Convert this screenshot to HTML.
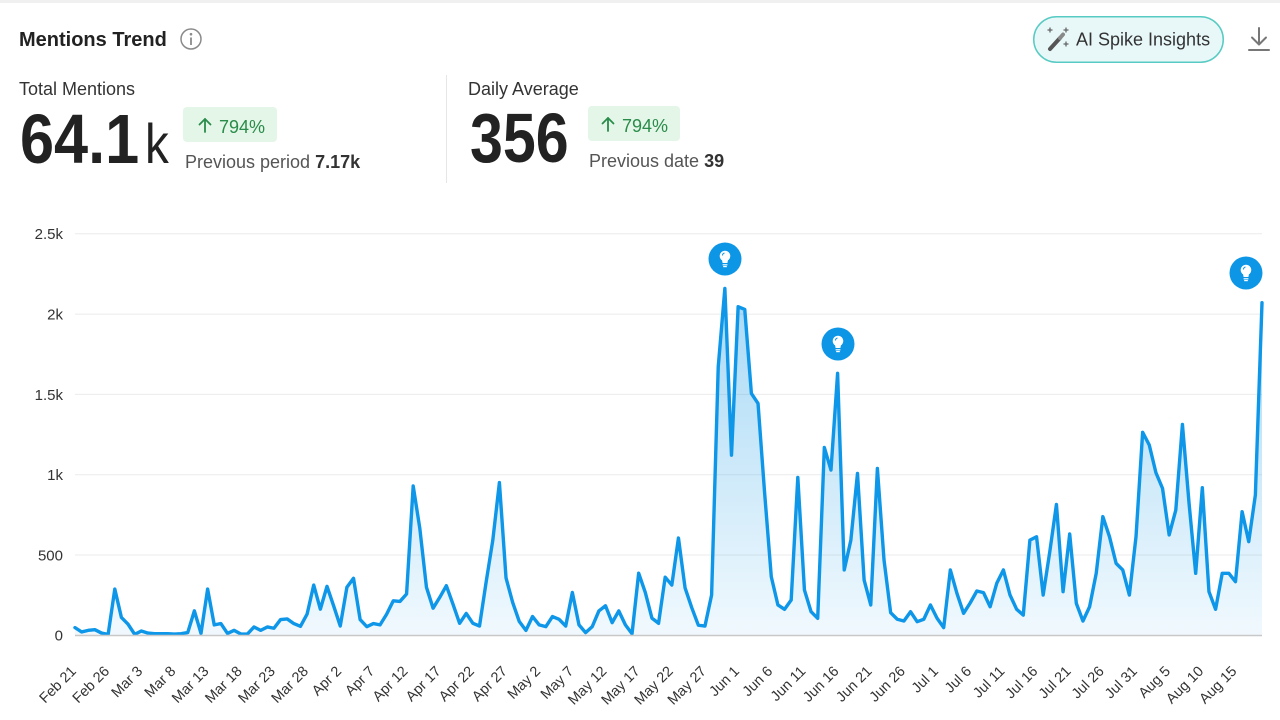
<!DOCTYPE html>
<html>
<head>
<meta charset="utf-8">
<style>
  html,body{margin:0;padding:0;background:#fff;}
  body{width:1280px;height:720px;overflow:hidden;}
  svg{display:block;}
</style>
</head>
<body>
<svg width="1280" height="720" viewBox="0 0 1280 720" xmlns="http://www.w3.org/2000/svg" font-family="'Liberation Sans', Arial, sans-serif">
  <defs>
    <linearGradient id="areaGrad" x1="0" y1="0" x2="0" y2="1">
      <stop offset="0" stop-color="#0c95e6" stop-opacity="0.06"/>
      <stop offset="1" stop-color="#0c95e6" stop-opacity="0.36"/>
    </linearGradient>
  </defs>
  <rect x="0" y="0" width="1280" height="720" fill="#ffffff"/>
  <rect x="0" y="0" width="1280" height="3" fill="#f0f0f0"/>

  <!-- Title -->
  <text x="19" y="46" font-size="20" font-weight="bold" fill="#222">Mentions Trend</text>
  <circle cx="191" cy="39" r="10" fill="none" stroke="#8a8a8a" stroke-width="1.5"/>
  <circle cx="191" cy="34.2" r="1.3" fill="#8a8a8a"/>
  <line x1="191" y1="37.5" x2="191" y2="45" stroke="#8a8a8a" stroke-width="1.8"/>

  <!-- AI Spike Insights button -->
  <rect x="1033.75" y="16.75" width="189.5" height="45.5" rx="22.75" fill="#e8f8f8" stroke="#57cbc3" stroke-width="1.5"/>
  <g stroke-linecap="round">
    <line x1="1050" y1="49" x2="1060" y2="38" stroke="#555" stroke-width="4"/>
    <line x1="1060" y1="38" x2="1063" y2="34.5" stroke="#888" stroke-width="4"/>
    <line x1="1050" y1="28" x2="1050" y2="32" stroke="#666" stroke-width="1.3"/>
    <line x1="1048" y1="30" x2="1052" y2="30" stroke="#666" stroke-width="1.3"/>
    <line x1="1066" y1="28" x2="1066" y2="32" stroke="#666" stroke-width="1.3"/>
    <line x1="1064" y1="30" x2="1068" y2="30" stroke="#666" stroke-width="1.3"/>
    <line x1="1066" y1="42" x2="1066" y2="46" stroke="#666" stroke-width="1.3"/>
    <line x1="1064" y1="44" x2="1068" y2="44" stroke="#666" stroke-width="1.3"/>
  </g>
  <text x="1076" y="45.5" font-size="18" fill="#333">AI Spike Insights</text>

  <!-- Download icon -->
  <g stroke="#777" stroke-width="2" fill="none" stroke-linecap="round" stroke-linejoin="round">
    <line x1="1259" y1="28" x2="1259" y2="44"/>
    <polyline points="1252,37.5 1259,44.5 1266,37.5"/>
    <line x1="1249" y1="50" x2="1269" y2="50"/>
  </g>

  <!-- Total Mentions -->
  <text x="19" y="95" font-size="18" fill="#333">Total Mentions</text>
  <text transform="translate(20,163) scale(0.875,1)" font-size="70" font-weight="bold" fill="#222">64.1</text>
  <text transform="translate(145,163) scale(0.85,1)" font-size="56" fill="#222">k</text>
  <rect x="183" y="107" width="94" height="35" rx="4" fill="#e3f6e8"/>
  <g stroke="#2a8c4a" stroke-width="1.8" fill="none" stroke-linecap="round" stroke-linejoin="round">
    <line x1="205" y1="132" x2="205" y2="119"/>
    <polyline points="199.5,124.5 205,119 210.5,124.5"/>
  </g>
  <text x="219" y="133" font-size="18" fill="#2a8c4a">794%</text>
  <text x="185" y="168" font-size="18" fill="#555">Previous period <tspan font-weight="bold" fill="#333">7.17k</tspan></text>

  <line x1="446.5" y1="75" x2="446.5" y2="183" stroke="#e6e6e6" stroke-width="1"/>

  <!-- Daily Average -->
  <text x="468" y="95" font-size="18" fill="#333">Daily Average</text>
  <text transform="translate(470,162) scale(0.845,1)" font-size="70" font-weight="bold" fill="#222">356</text>
  <rect x="588" y="106" width="92" height="35" rx="4" fill="#e3f6e8"/>
  <g stroke="#2a8c4a" stroke-width="1.8" fill="none" stroke-linecap="round" stroke-linejoin="round">
    <line x1="608" y1="131" x2="608" y2="118"/>
    <polyline points="602.5,123.5 608,118 613.5,123.5"/>
  </g>
  <text x="622" y="132" font-size="18" fill="#2a8c4a">794%</text>
  <text x="589" y="167" font-size="18" fill="#555">Previous date <tspan font-weight="bold" fill="#333">39</tspan></text>

  <!-- Grid lines -->
  <g stroke="#ebebeb" stroke-width="1">
    <line x1="75" y1="233.8" x2="1262" y2="233.8"/>
    <line x1="75" y1="314.1" x2="1262" y2="314.1"/>
    <line x1="75" y1="394.4" x2="1262" y2="394.4"/>
    <line x1="75" y1="474.7" x2="1262" y2="474.7"/>
    <line x1="75" y1="555" x2="1262" y2="555"/>
  </g>

  <!-- Y labels -->
  <g font-size="15" fill="#333" text-anchor="end">
    <text x="63" y="239">2.5k</text>
    <text x="63" y="319.5">2k</text>
    <text x="63" y="399.8">1.5k</text>
    <text x="63" y="480">1k</text>
    <text x="63" y="560.4">500</text>
    <text x="63" y="640.5">0</text>
  </g>

  <!-- Series -->
  <g transform="translate(75,635) scale(6.6313,-0.1606)">
    <polygon fill="url(#areaGrad)" points="0,0 0,46 1,19 2,29 3,33 4,12 5,4 6,286 7,109 8,67 9,4 10,25 11,12 12,8 13,8 14,8 15,6 16,8 17,15 18,150 19,10 20,286 21,63 22,71 23,10 24,29 25,6 26,6 27,50 28,29 29,50 30,42 31,96 32,100 33,71 34,54 35,130 36,311 37,161 38,303 39,182 40,56 41,297 42,353 43,96 44,52 45,71 46,63 47,130 48,213 49,209 50,255 51,928 52,663 53,297 54,167 55,234 56,307 57,192 58,73 59,134 60,73 61,56 62,330 63,589 64,949 65,355 66,203 67,84 68,29 69,115 70,63 71,52 72,115 73,98 74,56 75,265 76,63 77,15 78,52 79,150 80,182 81,77 82,150 83,63 84,8 85,385 86,265 87,105 88,73 89,360 90,311 91,604 92,293 93,171 94,61 95,56 96,249 97,1670 98,2158 99,1120 100,2044 101,2027 102,1504 103,1442 104,882 105,363 106,187 107,160 108,218 109,981 110,280 111,145 112,104 113,1168 114,1027 115,1629 116,405 117,591 118,1006 119,342 120,187 121,1037 122,467 123,139 124,98 125,87 126,145 127,83 128,98 129,187 130,104 131,46 132,405 133,259 134,135 135,200 136,274 137,264 138,176 139,322 140,405 141,249 142,160 143,124 144,591 145,612 146,249 147,519 148,813 149,270 150,629 151,197 152,87 153,176 154,384 155,737 156,612 157,446 158,405 159,249 160,612 161,1262 162,1183 163,1011 164,913 165,623 166,778 167,1311 168,820 169,384 170,917 171,270 172,160 173,384 174,384 175,332 176,768 177,581 178,872 179,2069 179,0"/>
    <polyline fill="none" stroke="#0e96e8" stroke-width="3.4" stroke-linejoin="round" stroke-linecap="round" vector-effect="non-scaling-stroke" points="0,46 1,19 2,29 3,33 4,12 5,4 6,286 7,109 8,67 9,4 10,25 11,12 12,8 13,8 14,8 15,6 16,8 17,15 18,150 19,10 20,286 21,63 22,71 23,10 24,29 25,6 26,6 27,50 28,29 29,50 30,42 31,96 32,100 33,71 34,54 35,130 36,311 37,161 38,303 39,182 40,56 41,297 42,353 43,96 44,52 45,71 46,63 47,130 48,213 49,209 50,255 51,928 52,663 53,297 54,167 55,234 56,307 57,192 58,73 59,134 60,73 61,56 62,330 63,589 64,949 65,355 66,203 67,84 68,29 69,115 70,63 71,52 72,115 73,98 74,56 75,265 76,63 77,15 78,52 79,150 80,182 81,77 82,150 83,63 84,8 85,385 86,265 87,105 88,73 89,360 90,311 91,604 92,293 93,171 94,61 95,56 96,249 97,1670 98,2158 99,1120 100,2044 101,2027 102,1504 103,1442 104,882 105,363 106,187 107,160 108,218 109,981 110,280 111,145 112,104 113,1168 114,1027 115,1629 116,405 117,591 118,1006 119,342 120,187 121,1037 122,467 123,139 124,98 125,87 126,145 127,83 128,98 129,187 130,104 131,46 132,405 133,259 134,135 135,200 136,274 137,264 138,176 139,322 140,405 141,249 142,160 143,124 144,591 145,612 146,249 147,519 148,813 149,270 150,629 151,197 152,87 153,176 154,384 155,737 156,612 157,446 158,405 159,249 160,612 161,1262 162,1183 163,1011 164,913 165,623 166,778 167,1311 168,820 169,384 170,917 171,270 172,160 173,384 174,384 175,332 176,768 177,581 178,872 179,2069"/>
  </g>

  <!-- Baseline -->
  <line x1="75" y1="635.5" x2="1262" y2="635.5" stroke="#c8c8c8" stroke-width="1.5"/>

  <!-- Spike markers -->
  <g>
    <g transform="translate(725,259)">
      <circle r="16.5" fill="#0d96e6"/>
      <circle cx="0" cy="-3" r="5.3" fill="#fff"/>
      <path d="M-3.2,0 L3.2,0 L2.4,4 L-2.4,4 Z" fill="#fff"/>
      <rect x="-2.4" y="5.2" width="4.8" height="1.2" fill="#fff"/>
      <rect x="-1.8" y="7" width="3.6" height="1.2" fill="#fff"/>
      <path d="M-2.6,-3.5 A2.8,2.8 0 0 1 -0.5,-6" stroke="#0d96e6" stroke-width="1" fill="none"/>
    </g>
    <g transform="translate(838,344)">
      <circle r="16.5" fill="#0d96e6"/>
      <circle cx="0" cy="-3" r="5.3" fill="#fff"/>
      <path d="M-3.2,0 L3.2,0 L2.4,4 L-2.4,4 Z" fill="#fff"/>
      <rect x="-2.4" y="5.2" width="4.8" height="1.2" fill="#fff"/>
      <rect x="-1.8" y="7" width="3.6" height="1.2" fill="#fff"/>
      <path d="M-2.6,-3.5 A2.8,2.8 0 0 1 -0.5,-6" stroke="#0d96e6" stroke-width="1" fill="none"/>
    </g>
    <g transform="translate(1246,273)">
      <circle r="16.5" fill="#0d96e6"/>
      <circle cx="0" cy="-3" r="5.3" fill="#fff"/>
      <path d="M-3.2,0 L3.2,0 L2.4,4 L-2.4,4 Z" fill="#fff"/>
      <rect x="-2.4" y="5.2" width="4.8" height="1.2" fill="#fff"/>
      <rect x="-1.8" y="7" width="3.6" height="1.2" fill="#fff"/>
      <path d="M-2.6,-3.5 A2.8,2.8 0 0 1 -0.5,-6" stroke="#0d96e6" stroke-width="1" fill="none"/>
    </g>
  </g>

  <!-- X labels -->
  <g font-size="14.5" fill="#333" text-anchor="end">
    <text transform="translate(77,672) rotate(-45)">Feb 21</text>
    <text transform="translate(110.2,672) rotate(-45)">Feb 26</text>
    <text transform="translate(143.3,672) rotate(-45)">Mar 3</text>
    <text transform="translate(176.5,672) rotate(-45)">Mar 8</text>
    <text transform="translate(209.6,672) rotate(-45)">Mar 13</text>
    <text transform="translate(242.8,672) rotate(-45)">Mar 18</text>
    <text transform="translate(275.9,672) rotate(-45)">Mar 23</text>
    <text transform="translate(309.1,672) rotate(-45)">Mar 28</text>
    <text transform="translate(342.2,672) rotate(-45)">Apr 2</text>
    <text transform="translate(375.4,672) rotate(-45)">Apr 7</text>
    <text transform="translate(408.6,672) rotate(-45)">Apr 12</text>
    <text transform="translate(441.7,672) rotate(-45)">Apr 17</text>
    <text transform="translate(474.9,672) rotate(-45)">Apr 22</text>
    <text transform="translate(508,672) rotate(-45)">Apr 27</text>
    <text transform="translate(541.2,672) rotate(-45)">May 2</text>
    <text transform="translate(574.3,672) rotate(-45)">May 7</text>
    <text transform="translate(607.5,672) rotate(-45)">May 12</text>
    <text transform="translate(640.7,672) rotate(-45)">May 17</text>
    <text transform="translate(673.8,672) rotate(-45)">May 22</text>
    <text transform="translate(707,672) rotate(-45)">May 27</text>
    <text transform="translate(740.1,672) rotate(-45)">Jun 1</text>
    <text transform="translate(773.3,672) rotate(-45)">Jun 6</text>
    <text transform="translate(806.4,672) rotate(-45)">Jun 11</text>
    <text transform="translate(839.6,672) rotate(-45)">Jun 16</text>
    <text transform="translate(872.7,672) rotate(-45)">Jun 21</text>
    <text transform="translate(905.9,672) rotate(-45)">Jun 26</text>
    <text transform="translate(939.1,672) rotate(-45)">Jul 1</text>
    <text transform="translate(972.2,672) rotate(-45)">Jul 6</text>
    <text transform="translate(1005.4,672) rotate(-45)">Jul 11</text>
    <text transform="translate(1038.5,672) rotate(-45)">Jul 16</text>
    <text transform="translate(1071.7,672) rotate(-45)">Jul 21</text>
    <text transform="translate(1104.8,672) rotate(-45)">Jul 26</text>
    <text transform="translate(1138,672) rotate(-45)">Jul 31</text>
    <text transform="translate(1171.1,672) rotate(-45)">Aug 5</text>
    <text transform="translate(1204.3,672) rotate(-45)">Aug 10</text>
    <text transform="translate(1237.5,672) rotate(-45)">Aug 15</text>
  </g>
</svg>
</body>
</html>
